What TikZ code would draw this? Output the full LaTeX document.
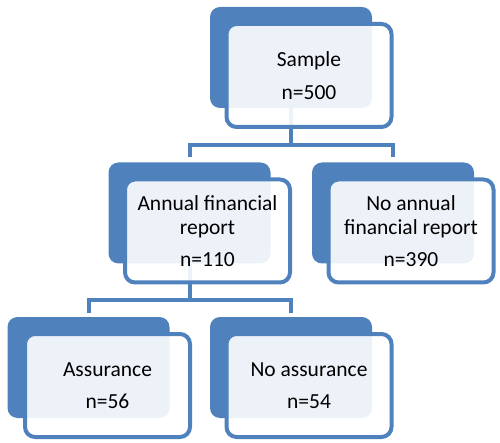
\documentclass[tikz,border=0pt]{standalone}
\usepackage{fontspec}
\setmainfont{Carlito}
\definecolor{blueA}{HTML}{4F81BD}
\begin{document}
\begin{tikzpicture}[x=1pt,y=-1pt,
  back/.style={fill=blueA, rounded corners=10pt, minimum width=162pt, minimum height=101pt, inner sep=0pt},
  front/.style={draw=blueA, line width=4pt, fill=white, fill opacity=0.9, text opacity=1, rounded corners=10pt, minimum width=165pt, minimum height=103pt, inner sep=0pt, align=center, font=\fontsize{21.5}{24}\selectfont},
  conn/.style={draw=blueA, line width=4pt}]
\useasboundingbox (0,0) rectangle (500,443);
% back boxes
\node[back] (b1) at (291,57.5) {};
\node[back] (b2) at (189.5,213) {};
\node[back] (b3) at (393,213) {};
\node[back] (b4) at (88.5,367.5) {};
\node[back] (b5) at (291,367.5) {};
% connectors
\coordinate (j1) at ([yshift=-37pt]b1.south);
\draw[conn] (b1.south) -- (j1) -| ([yshift=5pt]b2.north);
\draw[conn] (j1) -| ([yshift=5pt]b3.north);
\coordinate (j2) at ([yshift=-36pt]b2.south);
\draw[conn] (b2.south) -- (j2) -| ([yshift=4pt]b4.north);
\draw[conn] (j2) -| ([yshift=4pt]b5.north);
% front boxes
\node[front] (f1) at (309,75.5) {Sample\\[8.5pt]n=500};
\node[front] (f2) at (207.5,231) {Annual financial\\report\\[8.5pt]n=110};
\node[front] (f3) at (411,231) {No annual\\financial report\\[8.5pt]n=390};
\node[front] (f4) at (107.5,385.5) {Assurance\\[8.5pt]n=56};
\node[front] (f5) at (309,385.5) {No assurance\\[8.5pt]n=54};
\end{tikzpicture}
\end{document}
